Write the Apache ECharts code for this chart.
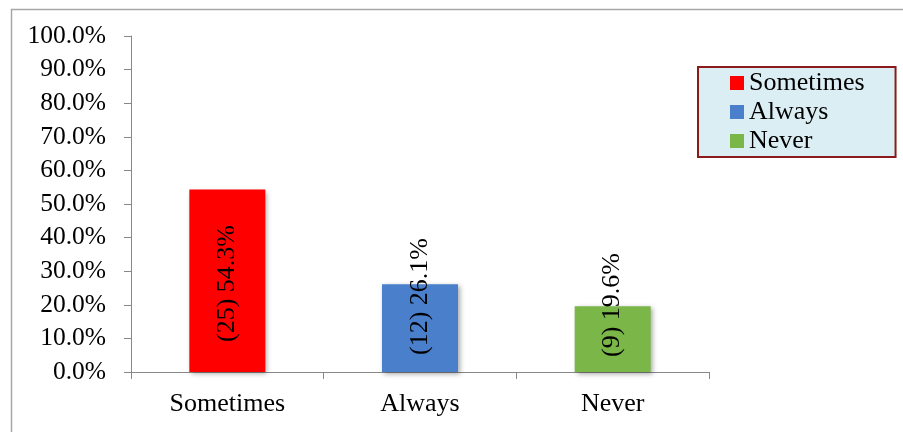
<!DOCTYPE html>
<html>
<head>
<meta charset="utf-8">
<script src="https://cdn.jsdelivr.net/npm/echarts@6/dist/echarts.min.js"></script>
<style>
  html, body { margin: 0; padding: 0; background: #fff; }
  #chart { width: 903px; height: 432px; }
</style>
</head>
<body>
<div id="chart"></div>
<script>
// Response categories, respondent counts and their share of all answers
const categories = ['Sometimes', 'Always', 'Never'];
const counts = [25, 12, 9];
const percents = [54.3, 26.1, 19.6];
const yTicks = [0, 10, 20, 30, 40, 50, 60, 70, 80, 90, 100];

const colors = ['#ff0000', '#4a7fcc', '#7ab648'];
// distance of each rotated label from the base of its bar
const labelGap = [30, 17, 15];
const FONT = '"Liberation Serif", "Times New Roman", serif';

const series = categories.map((name, i) => ({
  name: name,
  type: 'bar',
  stack: 'answers',
  barWidth: 76,
  data: categories.map((_, j) => (j === i ? percents[i] : '-')),
  itemStyle: {
    color: colors[i],
    shadowColor: 'rgba(0,0,0,0.35)',
    shadowBlur: 5,
    shadowOffsetX: 2,
    shadowOffsetY: 2
  },
  label: {
    show: true,
    position: 'insideBottom',
    rotate: 90,
    align: 'left',
    verticalAlign: 'middle',
    distance: labelGap[i],
    color: '#000',
    fontFamily: FONT,
    fontSize: 26,
    formatter: () => '(' + counts[i] + ') ' + percents[i].toFixed(1) + '%'
  }
}));

const chart = echarts.init(document.getElementById('chart'), null, { renderer: 'canvas' });
chart.setOption({
  animation: false,
  backgroundColor: '#fff',
  textStyle: { fontFamily: FONT },
  graphic: [{
    type: 'rect',
    left: 9,
    top: 7,
    shape: { width: 1200, height: 1200 },
    style: { fill: 'none', stroke: '#a6a6a6', lineWidth: 1.5 },
    silent: true
  }],
  grid: { left: 131, right: 194, top: 36, bottom: 60, containLabel: false },
  legend: {
    orient: 'vertical',
    left: 698,
    top: 67,
    backgroundColor: '#daeef3',
    borderColor: '#8b1a1a',
    borderWidth: 2,
    padding: [3, 31, 3, 32],
    itemWidth: 14,
    itemHeight: 14,
    itemGap: 3,
    icon: 'rect',
    data: categories,
    textStyle: { fontFamily: FONT, fontSize: 26, color: '#000', lineHeight: 26 }
  },
  xAxis: {
    type: 'category',
    data: categories,
    boundaryGap: true,
    axisLine: { show: true, lineStyle: { color: '#888', width: 1 } },
    axisTick: { show: true, length: 7, lineStyle: { color: '#888' } },
    axisLabel: { color: '#000', fontFamily: FONT, fontSize: 26, margin: 19 }
  },
  yAxis: {
    type: 'value',
    min: yTicks[0],
    max: yTicks[yTicks.length - 1],
    interval: yTicks[1] - yTicks[0],
    axisLine: { show: true, lineStyle: { color: '#888', width: 1 } },
    axisTick: { show: true, length: 7, lineStyle: { color: '#888' } },
    splitLine: { show: false },
    axisLabel: {
      color: '#000',
      fontFamily: FONT,
      fontSize: 25.5,
      margin: 25,
      formatter: v => v.toFixed(1) + '%'
    }
  },
  series: series
});
</script>
</body>
</html>
